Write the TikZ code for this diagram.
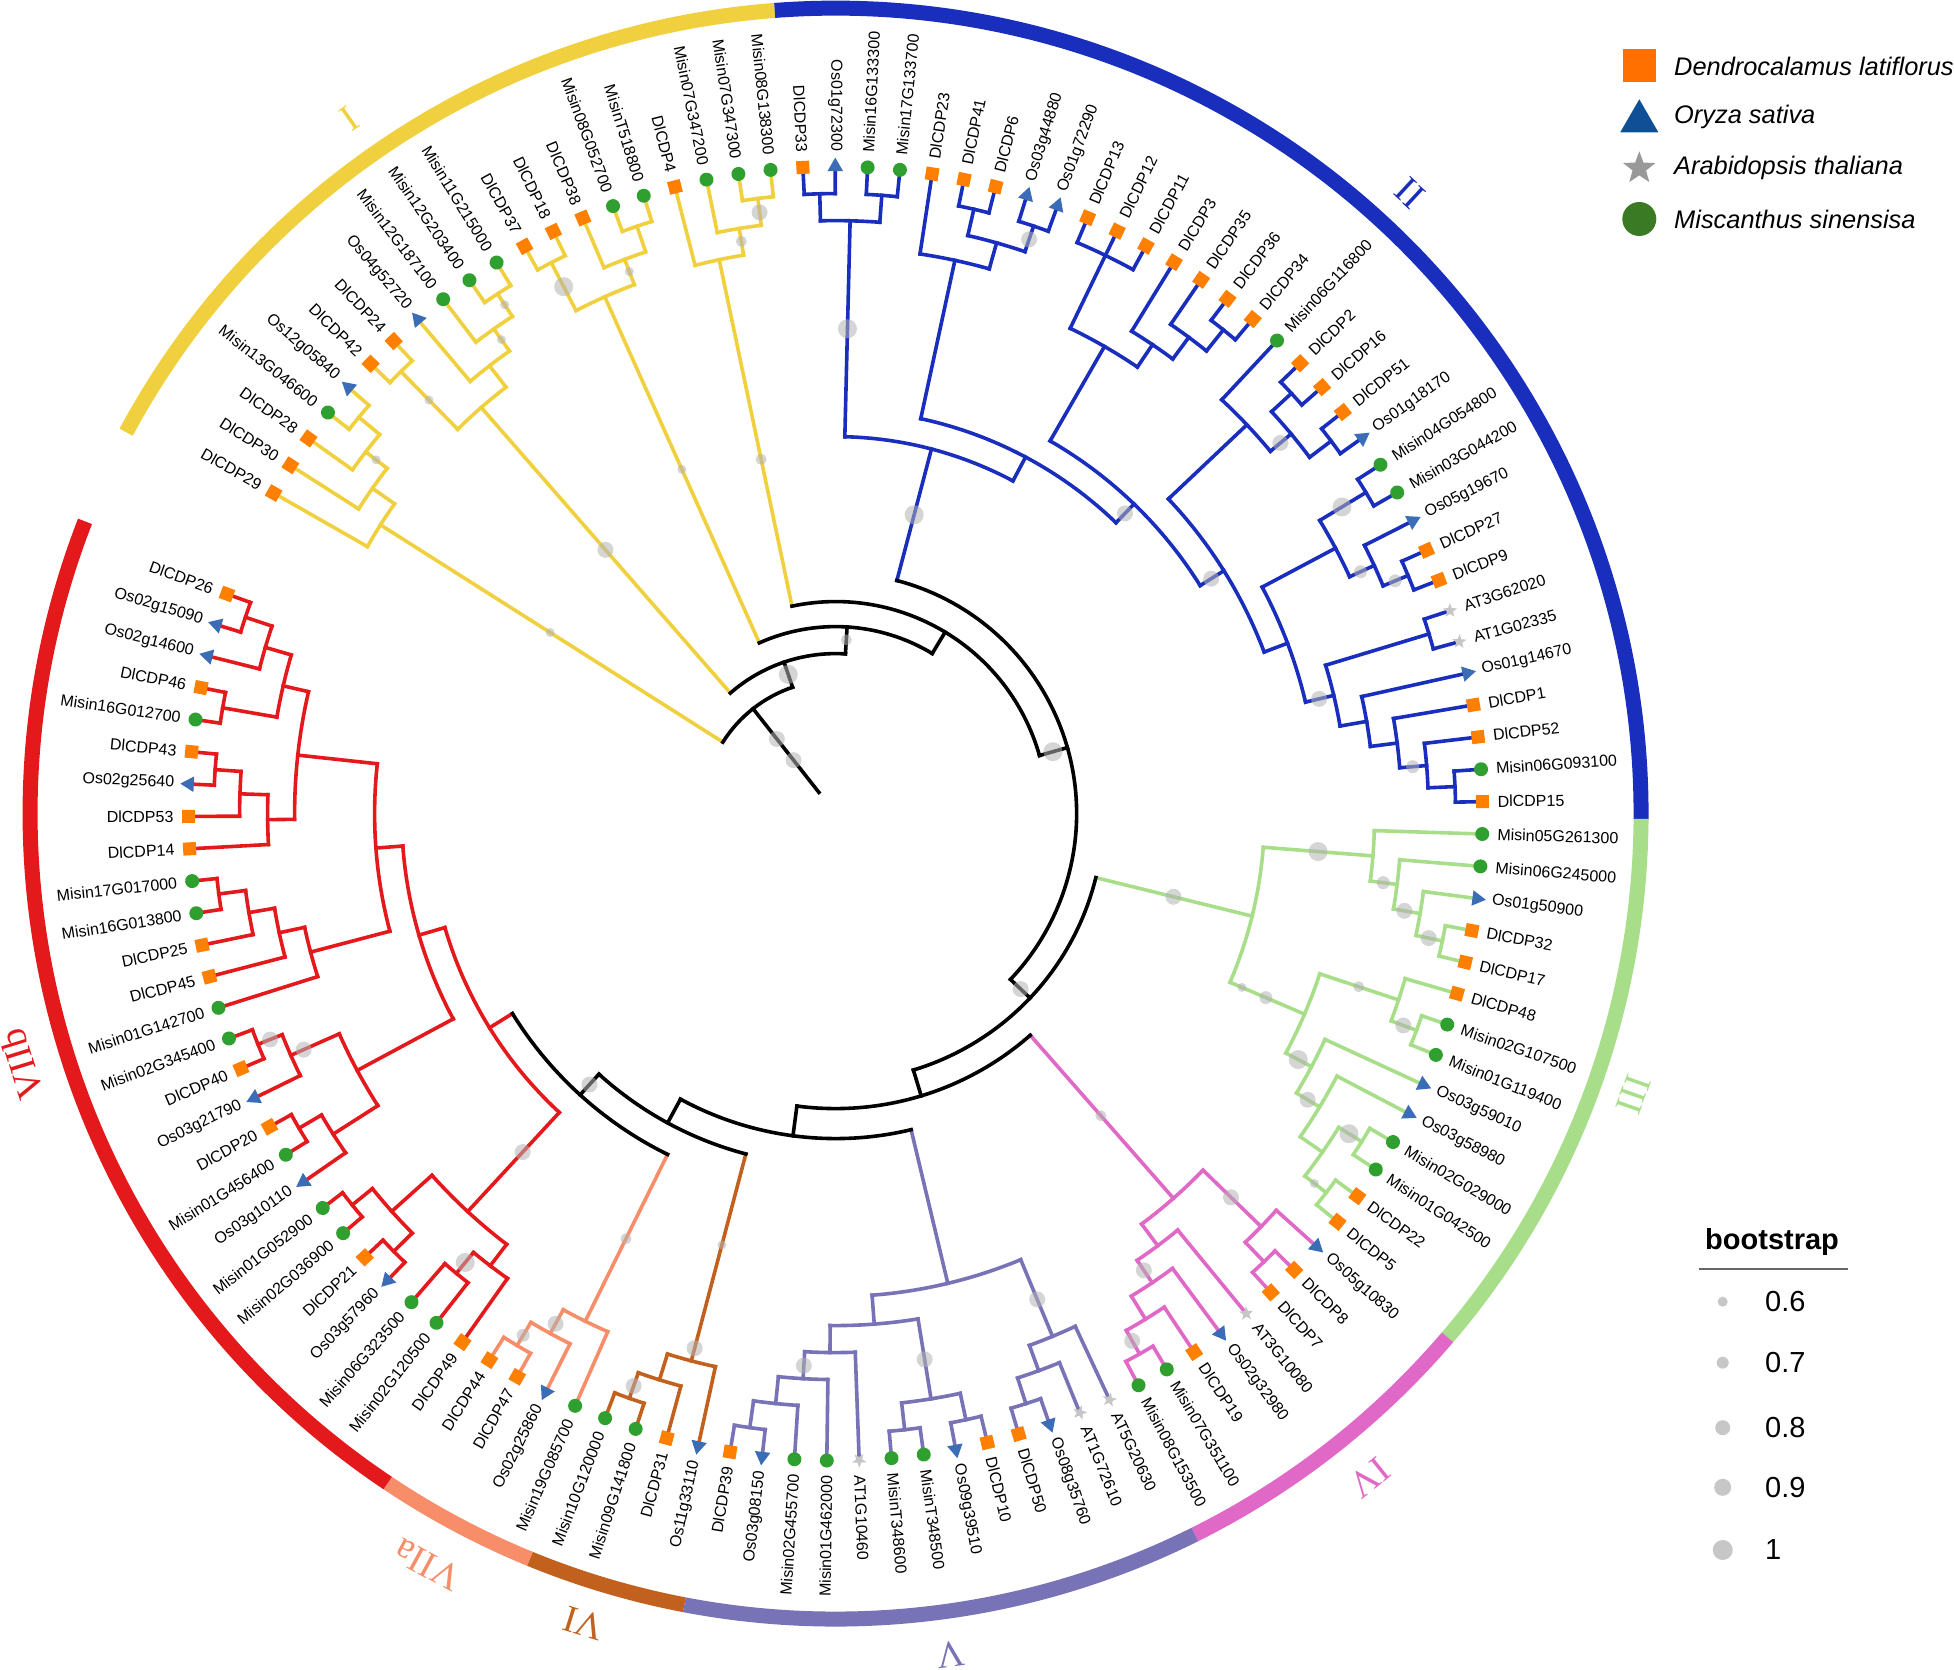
\documentclass[tikz,border=0pt]{standalone}
\usepackage{fontspec}
\setmainfont{Liberation Sans}
\newfontfamily\cladefont{Liberation Serif}
\usetikzlibrary{shapes.geometric}
\pgfdeclarelayer{lines}
\pgfsetlayers{lines,main}

\definecolor{cY}{HTML}{F0D03E}
\definecolor{cB}{HTML}{1A2EBE}
\definecolor{cG}{HTML}{A8DE8A}
\definecolor{cP}{HTML}{E068C6}
\definecolor{cV}{HTML}{7872B6}
\definecolor{cW}{HTML}{C2601E}
\definecolor{cS}{HTML}{F88D6A}
\definecolor{cR}{HTML}{E3191C}
\definecolor{cK}{HTML}{000000}
\definecolor{mSq}{HTML}{FF7F00}
\definecolor{mTr}{HTML}{3A6DB6}
\definecolor{mSt}{HTML}{C6C6C6}
\definecolor{mCi}{HTML}{2FA02F}
\definecolor{lSq}{HTML}{FF7000}
\definecolor{lTr}{HTML}{0E4F96}
\definecolor{lSt}{HTML}{999999}
\definecolor{lCi}{HTML}{3A7A24}

\tikzset{
  br/.style={line width=3.6pt, line cap=rect},
  mks/.style={rectangle, fill=mSq, minimum size=13pt, inner sep=0pt},
  mkc/.style={circle, fill=mCi, minimum size=14pt, inner sep=0pt},
  mkt/.style={regular polygon, regular polygon sides=3, fill=mTr, minimum size=18pt, inner sep=0pt, shape border rotate=-90},
  mka/.style={star, star points=5, star point ratio=2.4, fill=mSt, minimum size=15pt, inner sep=0pt, shape border rotate=-90},
  lab/.style={inner sep=0pt, font=\fontsize{16}{16}\selectfont},
  bsc/.style={fill=black!30, fill opacity=0.55},
}

\makeatletter
\newcommand\tsetnode[4]{%
  \expandafter\xdef\csname ni@#1\endcsname{#2}%
  \expandafter\xdef\csname nr@#1\endcsname{#3}%
  \expandafter\xdef\csname nc@#1\endcsname{#4}}
\newcommand\tleaf[4]{% idx, label, type, color
  \tsetnode{#1}{#1}{647}{#4}%
  \pgfmathsetmacro\lf@a{150.3-2.87*#1}%
  \node[mk#3, rotate=\lf@a] at (\lf@a:647) {};
  \pgfmathtruncatemacro\lf@f{or(\lf@a>90,\lf@a<-90)}%
  \ifnum\lf@f=1
    \pgfmathsetmacro\lf@t{\lf@a+180}%
    \node[lab, anchor=east, rotate=\lf@t] at (\lf@a:662) {#2};
  \else
    \node[lab, anchor=west, rotate=\lf@a] at (\lf@a:662) {#2};
  \fi}
\newcommand\tnode[4]{% name, radius, color, children
  \gdef\in@sum{0}\gdef\in@cnt{0}\gdef\in@min{1000}\gdef\in@max{-1000}%
  \foreach \ch in {#4}{%
    \edef\in@i{\csname ni@\ch\endcsname}%
    \pgfmathsetmacro\in@s{\in@sum+\in@i}\xdef\in@sum{\in@s}%
    \pgfmathsetmacro\in@n{\in@cnt+1}\xdef\in@cnt{\in@n}%
    \pgfmathsetmacro\in@a{min(\in@min,\in@i)}\xdef\in@min{\in@a}%
    \pgfmathsetmacro\in@b{max(\in@max,\in@i)}\xdef\in@max{\in@b}%
  }%
  \pgfmathsetmacro\in@idx{\in@sum/\in@cnt}%
  \tsetnode{#1}{\in@idx}{#2}{#3}%
  \begin{pgfonlayer}{lines}
  \foreach \ch in {#4}{%
    \edef\st@i{\csname ni@\ch\endcsname}%
    \pgfmathsetmacro\st@a{150.3-2.87*\st@i}%
    \edef\st@r{\csname nr@\ch\endcsname}%
    \edef\st@c{\csname nc@\ch\endcsname}%
    \draw[br, color=\st@c] (\st@a:#2) -- (\st@a:\st@r);
  }%
  \pgfmathsetmacro\ar@a{150.3-2.87*\in@min}%
  \pgfmathsetmacro\ar@b{150.3-2.87*\in@max}%
  \draw[br, color=#3] (\ar@a:#2) arc[start angle=\ar@a, end angle=\ar@b, radius=#2];
  \end{pgfonlayer}}
\newcommand\tboot[3]{% node, radius, diameter
  \edef\bs@i{\csname ni@#1\endcsname}%
  \pgfmathsetmacro\bs@a{150.3-2.87*\bs@i}%
  \fill[bsc] (\bs@a:#2) circle[radius=#3/2];}
\newcommand\tring[3]{%
  \pgfmathsetmacro\rg@a{150.3-2.87*(#1)}%
  \pgfmathsetmacro\rg@b{150.3-2.87*(#2)}%
  \draw[line width=15pt, color=#3] (\rg@a:805.5) arc[start angle=\rg@a, end angle=\rg@b, radius=805.5];}
\newcommand\tclab[4]{% angle, radius, text, color
  \pgfmathsetmacro\cl@r{#1-90}%
  \node[text=#4, rotate=\cl@r, inner sep=0pt, font=\cladefont\fontsize{38}{38}\selectfont] at (#1:#2) {#3};}
\makeatother

\begin{document}
\begin{tikzpicture}[x=1pt,y=1pt]
\useasboundingbox (-835.6,-856.4) rectangle (1118.4,813.6);

% ---------- leaves ----------
\tleaf{0}{DlCDP29}{s}{cY}
\tleaf{1}{DlCDP30}{s}{cY}
\tleaf{2}{DlCDP28}{s}{cY}
\tleaf{3}{Misin13G046600}{c}{cY}
\tleaf{4}{Os12g05840}{t}{cY}
\tleaf{5}{DlCDP42}{s}{cY}
\tleaf{6}{DlCDP24}{s}{cY}
\tleaf{7}{Os04g52720}{t}{cY}
\tleaf{8}{Misin12G187100}{c}{cY}
\tleaf{9}{Misin12G203400}{c}{cY}
\tleaf{10}{Misin11G215000}{c}{cY}
\tleaf{11}{DlCDP37}{s}{cY}
\tleaf{12}{DlCDP18}{s}{cY}
\tleaf{13}{DlCDP38}{s}{cY}
\tleaf{14}{Misin08G052700}{c}{cY}
\tleaf{15}{MisinT518800}{c}{cY}
\tleaf{16}{DlCDP4}{s}{cY}
\tleaf{17}{Misin07G347200}{c}{cY}
\tleaf{18}{Misin07G347300}{c}{cY}
\tleaf{19}{Misin08G138300}{c}{cY}
\tleaf{20}{DlCDP33}{s}{cB}
\tleaf{21}{Os01g72300}{t}{cB}
\tleaf{22}{Misin16G133300}{c}{cB}
\tleaf{23}{Misin17G133700}{c}{cB}
\tleaf{24}{DlCDP23}{s}{cB}
\tleaf{25}{DlCDP41}{s}{cB}
\tleaf{26}{DlCDP6}{s}{cB}
\tleaf{27}{Os03g44880}{t}{cB}
\tleaf{28}{Os01g72290}{t}{cB}
\tleaf{29}{DlCDP13}{s}{cB}
\tleaf{30}{DlCDP12}{s}{cB}
\tleaf{31}{DlCDP11}{s}{cB}
\tleaf{32}{DlCDP3}{s}{cB}
\tleaf{33}{DlCDP35}{s}{cB}
\tleaf{34}{DlCDP36}{s}{cB}
\tleaf{35}{DlCDP34}{s}{cB}
\tleaf{36}{Misin06G116800}{c}{cB}
\tleaf{37}{DlCDP2}{s}{cB}
\tleaf{38}{DlCDP16}{s}{cB}
\tleaf{39}{DlCDP51}{s}{cB}
\tleaf{40}{Os01g18170}{t}{cB}
\tleaf{41}{Misin04G054800}{c}{cB}
\tleaf{42}{Misin03G044200}{c}{cB}
\tleaf{43}{Os05g19670}{t}{cB}
\tleaf{44}{DlCDP27}{s}{cB}
\tleaf{45}{DlCDP9}{s}{cB}
\tleaf{46}{AT3G62020}{a}{cB}
\tleaf{47}{AT1G02335}{a}{cB}
\tleaf{48}{Os01g14670}{t}{cB}
\tleaf{49}{DlCDP1}{s}{cB}
\tleaf{50}{DlCDP52}{s}{cB}
\tleaf{51}{Misin06G093100}{c}{cB}
\tleaf{52}{DlCDP15}{s}{cB}
\tleaf{53}{Misin05G261300}{c}{cG}
\tleaf{54}{Misin06G245000}{c}{cG}
\tleaf{55}{Os01g50900}{t}{cG}
\tleaf{56}{DlCDP32}{s}{cG}
\tleaf{57}{DlCDP17}{s}{cG}
\tleaf{58}{DlCDP48}{s}{cG}
\tleaf{59}{Misin02G107500}{c}{cG}
\tleaf{60}{Misin01G119400}{c}{cG}
\tleaf{61}{Os03g59010}{t}{cG}
\tleaf{62}{Os03g58980}{t}{cG}
\tleaf{63}{Misin02G029000}{c}{cG}
\tleaf{64}{Misin01G042500}{c}{cG}
\tleaf{65}{DlCDP22}{s}{cG}
\tleaf{66}{DlCDP5}{s}{cG}
\tleaf{67}{Os05g10830}{t}{cP}
\tleaf{68}{DlCDP8}{s}{cP}
\tleaf{69}{DlCDP7}{s}{cP}
\tleaf{70}{AT3G10080}{a}{cP}
\tleaf{71}{Os02g32980}{t}{cP}
\tleaf{72}{DlCDP19}{s}{cP}
\tleaf{73}{Misin07G351100}{c}{cP}
\tleaf{74}{Misin08G153500}{c}{cP}
\tleaf{75}{AT5G20630}{a}{cV}
\tleaf{76}{AT1G72610}{a}{cV}
\tleaf{77}{Os08g35760}{t}{cV}
\tleaf{78}{DlCDP50}{s}{cV}
\tleaf{79}{DlCDP10}{s}{cV}
\tleaf{80}{Os09g39510}{t}{cV}
\tleaf{81}{MisinT348500}{c}{cV}
\tleaf{82}{MisinT348600}{c}{cV}
\tleaf{83}{AT1G10460}{a}{cV}
\tleaf{84}{Misin01G462000}{c}{cV}
\tleaf{85}{Misin02G455700}{c}{cV}
\tleaf{86}{Os03g08150}{t}{cV}
\tleaf{87}{DlCDP39}{s}{cV}
\tleaf{88}{Os11g33110}{t}{cW}
\tleaf{89}{DlCDP31}{s}{cW}
\tleaf{90}{Misin09G141800}{c}{cW}
\tleaf{91}{Misin10G120000}{c}{cW}
\tleaf{92}{Misin19G085700}{c}{cS}
\tleaf{93}{Os02g25860}{t}{cS}
\tleaf{94}{DlCDP47}{s}{cS}
\tleaf{95}{DlCDP44}{s}{cS}
\tleaf{96}{DlCDP49}{s}{cR}
\tleaf{97}{Misin02G120500}{c}{cR}
\tleaf{98}{Misin06G323500}{c}{cR}
\tleaf{99}{Os03g57960}{t}{cR}
\tleaf{100}{DlCDP21}{s}{cR}
\tleaf{101}{Misin02G036900}{c}{cR}
\tleaf{102}{Misin01G052900}{c}{cR}
\tleaf{103}{Os03g10110}{t}{cR}
\tleaf{104}{Misin01G456400}{c}{cR}
\tleaf{105}{DlCDP20}{s}{cR}
\tleaf{106}{Os03g21790}{t}{cR}
\tleaf{107}{DlCDP40}{s}{cR}
\tleaf{108}{Misin02G345400}{c}{cR}
\tleaf{109}{Misin01G142700}{c}{cR}
\tleaf{110}{DlCDP45}{s}{cR}
\tleaf{111}{DlCDP25}{s}{cR}
\tleaf{112}{Misin16G013800}{c}{cR}
\tleaf{113}{Misin17G017000}{c}{cR}
\tleaf{114}{DlCDP14}{s}{cR}
\tleaf{115}{DlCDP53}{s}{cR}
\tleaf{116}{Os02g25640}{t}{cR}
\tleaf{117}{DlCDP43}{s}{cR}
\tleaf{118}{Misin16G012700}{c}{cR}
\tleaf{119}{DlCDP46}{s}{cR}
\tleaf{120}{Os02g14600}{t}{cR}
\tleaf{121}{Os02g15090}{t}{cR}
\tleaf{122}{DlCDP26}{s}{cR}

% ---------- clade I ----------
\tnode{y34}{620}{cY}{3,4}
\tnode{y2}{593}{cY}{2,y34}
\tnode{y1b}{566}{cY}{1,y2}
\tnode{Y1}{539}{cY}{0,y1b}
\tnode{y56}{620}{cY}{5,6}
\tnode{y910}{620}{cY}{9,10}
\tnode{y8}{593}{cY}{8,y910}
\tnode{y7}{566}{cY}{7,y8}
\tnode{Y2}{539}{cY}{y56,y7}
\tnode{y1112}{620}{cY}{11,12}
\tnode{y1415}{620}{cY}{14,15}
\tnode{y13}{593}{cY}{13,y1415}
\tnode{Y3}{566}{cY}{y1112,y13}
\tnode{y1819}{620}{cY}{18,19}
\tnode{y17}{593}{cY}{17,y1819}
\tnode{Y4}{566}{cY}{16,y17}
% ---------- clade II ----------
\tnode{b1}{620}{cB}{20,21}
\tnode{b2}{620}{cB}{22,23}
\tnode{b3}{593}{cB}{b1,b2}
\tnode{b4}{620}{cB}{25,26}
\tnode{b5}{620}{cB}{27,28}
\tnode{b6}{593}{cB}{b4,b5}
\tnode{b7}{566}{cB}{24,b6}
\tnode{bP1}{620}{cB}{29,30,31}
\tnode{b3435}{620}{cB}{34,35}
\tnode{b33}{593}{cB}{33,b3435}
\tnode{b32}{566}{cB}{32,b33}
\tnode{bP}{539}{cB}{bP1,b32}
\tnode{b3738}{620}{cB}{37,38}
\tnode{b3940}{620}{cB}{39,40}
\tnode{b37}{593}{cB}{b3738,b3940}
\tnode{bS3}{566}{cB}{36,b37}
\tnode{b4142}{620}{cB}{41,42}
\tnode{b4445}{620}{cB}{44,45}
\tnode{b43}{593}{cB}{43,b4445}
\tnode{bR3}{566}{cB}{b4142,b43}
\tnode{b4647}{620}{cB}{46,47}
\tnode{b5152}{620}{cB}{51,52}
\tnode{b50}{593}{cB}{50,b5152}
\tnode{b49}{566}{cB}{49,b50}
\tnode{b48}{539}{cB}{48,b49}
\tnode{b5n}{512}{cB}{b4647,b48}
\tnode{bH6}{483}{cB}{bR3,b5n}
\tnode{bQ}{458}{cB}{bS3,bH6}
\tnode{bY8}{430}{cB}{bP,bQ}
\tnode{bX9}{404}{cB}{b7,bY8}
\tnode{B0}{377}{cB}{b3,bX9}
% ---------- clade III ----------
\tnode{g5657}{620}{cG}{56,57}
\tnode{g55}{593}{cG}{55,g5657}
\tnode{g54}{566}{cG}{54,g55}
\tnode{Ga}{539}{cG}{53,g54}
\tnode{g5960}{620}{cG}{59,60}
\tnode{g58}{593}{cG}{58,g5960}
\tnode{g6364}{620}{cG}{63,64}
\tnode{g6566}{620}{cG}{65,66}
\tnode{g63}{593}{cG}{g6364,g6566}
\tnode{g62}{566}{cG}{62,g63}
\tnode{g61}{539}{cG}{61,g62}
\tnode{G5}{510}{cG}{g58,g61}
\tnode{G0}{429}{cG}{Ga,G5}
% ---------- clade IV ----------
\tnode{p6869}{620}{cP}{68,69}
\tnode{p67}{593}{cP}{67,p6869}
\tnode{p7374}{620}{cP}{73,74}
\tnode{p72}{593}{cP}{72,p7374}
\tnode{p71}{566}{cP}{71,p72}
\tnode{p70}{539}{cP}{70,p71}
\tnode{P0}{512}{cP}{p67,p70}
% ---------- clade V ----------
\tnode{v7778}{620}{cV}{77,78}
\tnode{v76}{593}{cV}{76,v7778}
\tnode{v75}{566}{cV}{75,v76}
\tnode{v7980}{620}{cV}{79,80}
\tnode{v8182}{620}{cV}{81,82}
\tnode{v79}{593}{cV}{v7980,v8182}
\tnode{v8687}{620}{cV}{86,87}
\tnode{v85}{593}{cV}{85,v8687}
\tnode{v84}{566}{cV}{84,v85}
\tnode{v83}{539}{cV}{83,v84}
\tnode{Vb}{512}{cV}{v79,v83}
\tnode{V0}{483}{cV}{v75,Vb}
% ---------- clade VI / VIIa ----------
\tnode{w9091}{620}{cW}{90,91}
\tnode{w89}{593}{cW}{89,w9091}
\tnode{W0}{566}{cW}{88,w89}
\tnode{s9495}{620}{cS}{94,95}
\tnode{s93}{593}{cS}{93,s9495}
\tnode{S0}{566}{cS}{92,s93}
% ---------- clade VIIb ----------
\tnode{r121}{622}{cR}{121,122}
\tnode{r120}{594}{cR}{120,r121}
\tnode{r118}{622}{cR}{118,119}
\tnode{Rup1}{567}{cR}{r120,r118}
\tnode{r116}{622}{cR}{116,117}
\tnode{r115}{596}{cR}{115,r116}
\tnode{Rup2}{568}{cR}{114,r115}
\tnode{Rup}{541}{cR}{Rup1,Rup2}
\tnode{r112}{622}{cR}{112,113}
\tnode{r111}{595}{cR}{111,r112}
\tnode{r110}{569}{cR}{110,r111}
\tnode{Rmid}{543}{cR}{109,r110}
\tnode{Rum}{461}{cR}{Rup,Rmid}
\tnode{r107}{622}{cR}{107,108}
\tnode{r106}{596}{cR}{106,r107}
\tnode{r104}{622}{cR}{104,105}
\tnode{r103}{596}{cR}{103,r104}
\tnode{Rlow}{543}{cR}{r106,r103}
\tnode{Rx}{434}{cR}{Rum,Rlow}
\tnode{r101}{622}{cR}{101,102}
\tnode{r99}{622}{cR}{99,100}
\tnode{Ra}{596}{cR}{r101,r99}
\tnode{r97}{596}{cR}{97,98}
\tnode{Rc}{569}{cR}{96,r97}
\tnode{Rb}{542}{cR}{Ra,Rc}
\tnode{R9}{407}{cR}{Rx,Rb}
% ---------- backbone ----------
\tnode{N9}{380}{cK}{S0,R9}
\tnode{N8}{352}{cK}{W0,N9}
\tnode{N7}{325}{cK}{V0,N8}
\tnode{N6}{295}{cK}{P0,N7}
\tnode{N5}{268}{cK}{G0,N6}
\tnode{N4}{241}{cK}{B0,N5}
\tnode{N3}{212}{cK}{Y4,N4}
\tnode{N2}{187}{cK}{Y3,N3}
\tnode{N1}{160}{cK}{Y2,N2}
\tnode{R0}{133.5}{cK}{Y1,N1}
\makeatletter
\pgfmathsetmacro\rootang{150.3-2.87*\csname ni@R0\endcsname}
\makeatother
\begin{pgfonlayer}{lines}
\draw[br, black] (\rootang:27) -- (\rootang:133.5);
\end{pgfonlayer}

% ---------- bootstrap ----------
\tboot{y1112}{593}{19}
\tboot{y1819}{606}{16}
\tboot{y17}{580}{11}
\tboot{Y4}{362}{11}
\tboot{Y2}{350}{16}
\tboot{y910}{607}{9}
\tboot{y8}{580}{9}
\tboot{y13}{580}{9}
\tboot{Y3}{377}{9}
\tboot{y2}{580}{9}
\tboot{y56}{580}{9}
\tboot{Y1}{338}{9}
\tboot{R0}{95}{16}
\tboot{R0}{68}{16}
\tboot{N1}{147}{19}
\tboot{N2}{174}{11}
\tboot{N4}{226}{19}
\tboot{N5}{255}{16}
\tboot{N9}{366}{16}
\tboot{b3}{485}{19}
\tboot{B0}{309}{19}
\tboot{b5}{606}{16}
\tboot{bY8}{417}{16}
\tboot{bQ}{443}{16}
\tboot{b37}{579}{16}
\tboot{b4142}{592}{19}
\tboot{b43}{578}{13}
\tboot{b4445}{606}{13}
\tboot{b5n}{497}{16}
\tboot{b50}{579}{13}
\tboot{G0}{348}{16}
\tboot{Ga}{484}{19}
\tboot{g54}{552}{13}
\tboot{g55}{577}{16}
\tboot{g5657}{606}{16}
\tboot{G5}{468}{13}
\tboot{G5}{442}{9}
\tboot{g58}{551}{11}
\tboot{g5960}{606}{16}
\tboot{g61}{524}{19}
\tboot{g62}{552}{16}
\tboot{g6364}{605}{19}
\tboot{g6566}{605}{9}
\tboot{P0}{402}{11}
\tboot{p67}{551}{16}
\tboot{p71}{551}{16}
\tboot{p7374}{605}{16}
\tboot{v75}{526}{16}
\tboot{v79}{553}{16}
\tboot{v84}{553}{16}
\tboot{W0}{553}{16}
\tboot{W0}{446}{9}
\tboot{w9091}{607}{16}
\tboot{S0}{474}{11}
\tboot{s93}{582}{16}
\tboot{s9495}{608}{13}
\tboot{r97}{582}{19}
\tboot{Rb}{461}{16}
\tboot{r107}{609}{16}
\tboot{r106}{582}{16}

% ---------- outer ring ----------
\tring{-0.5}{19.5}{cY}
\tring{19.5}{52.5}{cB}
\tring{52.5}{66.5}{cG}
\tring{66.5}{74.5}{cP}
\tring{74.5}{87.5}{cV}
\tring{87.5}{91.5}{cW}
\tring{91.5}{95.5}{cS}
\tring{95.5}{122.5}{cR}

% ---------- clade labels ----------
\tclab{125}{848}{I}{cY}
\tclab{47.2}{846}{II}{cB}
\tclab{-19.4}{846}{III}{cG}
\tclab{-51.2}{852}{IV}{cP}
\tclab{-82.2}{849}{V}{cV}
\tclab{-107.3}{848}{VI}{cW}
\tclab{-118.5}{855}{VIIa}{cS}
\tclab{-162.9}{852}{VIIb}{cR}

% ---------- species legend ----------
\node[rectangle, fill=lSq, minimum size=33pt, inner sep=0pt] (lg1) at (803.7,747.6) {};
\node[regular polygon, regular polygon sides=3, fill=lTr, minimum size=44pt, inner sep=0pt] (lg2) at (803.7,692.3) {};
\node[star, star points=5, star point ratio=2.4, fill=lSt, minimum size=34pt, inner sep=0pt] (lg3) at (803.7,645.3) {};
\node[circle, fill=lCi, minimum size=34pt, inner sep=0pt] (lg4) at (803.7,594.6) {};
\node[anchor=west, inner sep=0pt, font=\fontsize{25.4}{25.4}\selectfont\itshape] (lt1) at (838.4,747.6) {Dendrocalamus latiflorus};
\node[anchor=west, inner sep=0pt, font=\fontsize{25.4}{25.4}\selectfont\itshape] (lt2) at (838.4,696.3) {Oryza sativa};
\node[anchor=west, inner sep=0pt, font=\fontsize{25.4}{25.4}\selectfont\itshape] (lt3) at (838.4,645.3) {Arabidopsis thaliana};
\node[anchor=west, inner sep=0pt, font=\fontsize{25.4}{25.4}\selectfont\itshape] (lt4) at (838.4,594.6) {Miscanthus sinensisa};

% ---------- bootstrap legend ----------
\node[anchor=west, inner sep=0pt, font=\fontsize{29}{29}\selectfont\bfseries] (bt) at (869.4,-428.1) {bootstrap};
\draw[line width=2pt, color=black!60] (863.7,-455.4) -- (1012.7,-455.4);
\fill[black!22] (887.1,-488.1) circle[radius=5];
\fill[black!22] (887.1,-549.1) circle[radius=6];
\fill[black!22] (887.1,-614.1) circle[radius=7.5];
\fill[black!22] (887.1,-673.7) circle[radius=8.5];
\fill[black!22] (887.1,-736.4) circle[radius=10];
\node[anchor=west, inner sep=0pt, font=\fontsize{29}{29}\selectfont] (b1) at (929.4,-488.1) {0.6};
\node[anchor=west, inner sep=0pt, font=\fontsize{29}{29}\selectfont] (b2) at (929.4,-549.1) {0.7};
\node[anchor=west, inner sep=0pt, font=\fontsize{29}{29}\selectfont] (b3) at (929.4,-614.1) {0.8};
\node[anchor=west, inner sep=0pt, font=\fontsize{29}{29}\selectfont] (b4) at (929.4,-673.7) {0.9};
\node[anchor=west, inner sep=0pt, font=\fontsize{29}{29}\selectfont] (b5) at (929.4,-736.4) {1};
\end{tikzpicture}
\end{document}
